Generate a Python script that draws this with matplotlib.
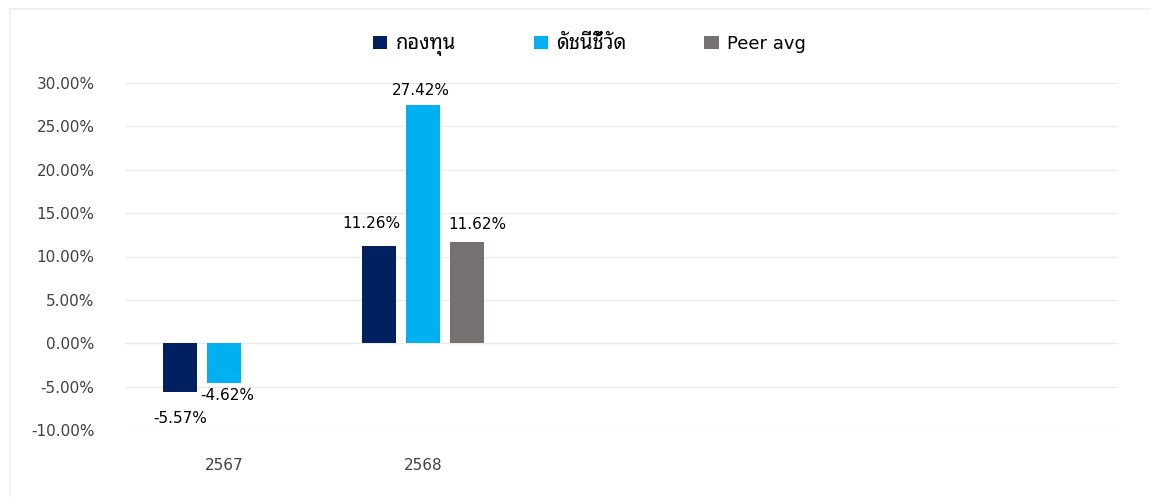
import numpy as np
import matplotlib
matplotlib.use('Agg')
import matplotlib.pyplot as plt
from matplotlib.lines import Line2D

# --- data (percent) ---
categories = ['2567', '2568', '', '', '']
fund = [-5.57, 11.26, np.nan, np.nan, np.nan]
benchmark = [-4.62, 27.42, np.nan, np.nan, np.nan]
peer_avg = [np.nan, 11.62, np.nan, np.nan, np.nan]
series_names = ['กองทุน', 'ดัชนีชี้วัด', 'Peer avg']
y_ticks = [-10, -5, 0, 5, 10, 15, 20, 25, 30]

colors = ['#002060', '#00B0F0', '#767171']
# label nudges in pixels (dx, dy) per series, per category
label_offsets = [
    [(0, -27), (-7, 22)],
    [(3, -12), (-2, 15)],
    [(0, 0), (10, 18)],
]

plt.rcParams['font.family'] = ['DejaVu Sans', 'Noto Sans Thai Looped']

fig = plt.figure(figsize=(11.51, 4.97), dpi=100)
# faint outer frame (left and top edges only visible)
fx, fy = 9.5 / 1151, 1 - 8.5 / 497
fig.add_artist(Line2D([fx, fx], [0, fy], transform=fig.transFigure,
                      color='#ececec', linewidth=1.2))
fig.add_artist(Line2D([fx, 1], [fy, fy], transform=fig.transFigure,
                      color='#ececec', linewidth=1.2))

ax = fig.add_axes([125 / 1151, 67 / 497, 993 / 1151, 347 / 497])

x = np.arange(len(categories))
width = 0.172
step = 0.222
all_series = [fund, benchmark, peer_avg]
for i, (vals, col, name) in enumerate(zip(all_series, colors, series_names)):
    pos = x + (i - 1) * step
    ax.bar(pos, vals, width, color=col, label=name, zorder=3)
    for j, v in enumerate(vals):
        if np.isnan(v):
            continue
        dx, dy = label_offsets[i][j]
        ax.annotate(f'{v:.2f}%', (pos[j], v), xytext=(dx, dy),
                    textcoords='offset pixels', ha='center', va='center',
                    fontsize=11, color='black')

ax.set_xlim(-0.5, len(categories) - 0.5)
ax.set_ylim(-10, 30)
ax.set_yticks(y_ticks)
ax.set_yticklabels([f'{t:.2f}%' for t in y_ticks])
ax.set_xticks(x)
ax.set_xticklabels(categories)
ax.tick_params(axis='y', length=0, pad=22, labelsize=11, labelcolor='#404040')
ax.tick_params(axis='x', length=0, pad=20, labelsize=11, labelcolor='#404040')
ax.grid(axis='y', color='#ebebeb', linewidth=1, zorder=0)
for s in ax.spines.values():
    s.set_visible(False)

leg = fig.legend(loc='center', bbox_to_anchor=(0.512, 0.91), ncol=3, frameon=False,
                 fontsize=13, handlelength=0.8, handleheight=0.8,
                 handletextpad=0.45, columnspacing=4.3)
for t in leg.get_texts():
    if t.get_text() != 'Peer avg':
        t.set_fontsize(14.5)

fig.savefig('out.png', dpi=100)
